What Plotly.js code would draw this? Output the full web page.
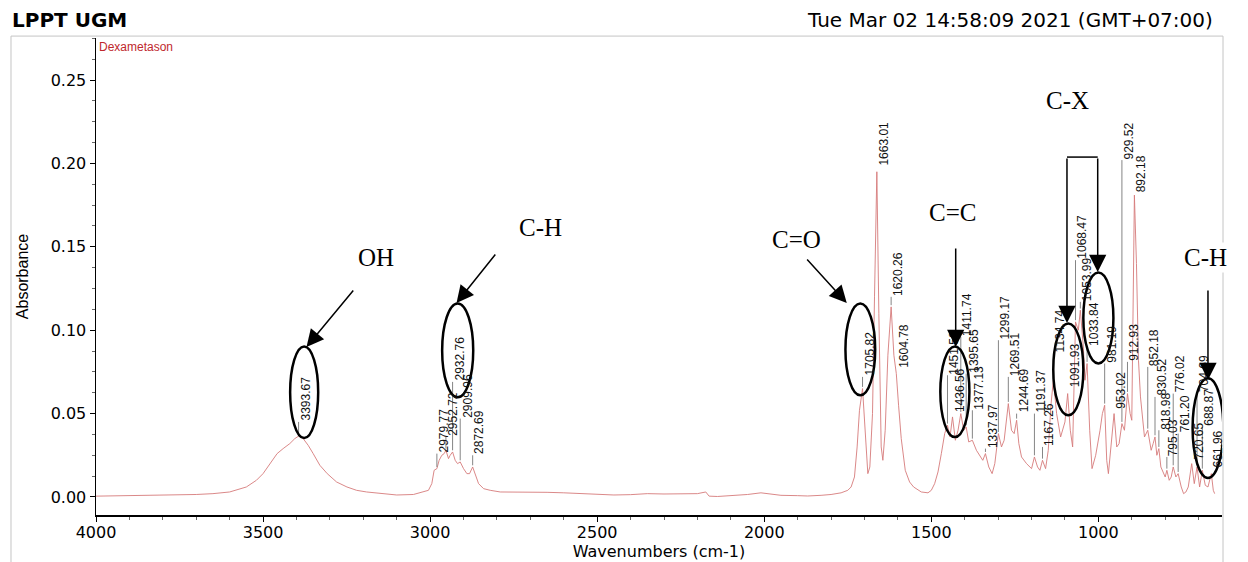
<!DOCTYPE html>
<html>
<head>
<meta charset="utf-8">
<script src="https://cdn.plot.ly/plotly-3.0.1.min.js"></script>
<style>html,body{margin:0;padding:0;background:#fff;}#chart{width:1248px;height:562px;}</style>
</head>
<body>
<div id="chart"></div>
<script>
// Spectrum
const wavenumber = [4000,3900,3800,3700,3650,3600,3550,3520,3500,3480,3458,3440,3420,3405,3393.67,3380,3365,3350,3330,3308,3280,3249,3220,3190,3150,3100,3050,3020,3005,2995,2988,2979.77,2973,2965,2958,2952.72,2945,2940,2932.76,2925,2918,2909.96,2900,2890,2882,2872.69,2865,2855,2840,2820,2790,2750,2700,2650,2600,2550,2500,2450,2400,2350,2300,2250,2200,2175,2165,2140,2100,2050,2010,1990,1970,1950,1900,1870,1830,1800,1770,1750,1740,1730,1722,1715,1705.82,1698,1690,1684,1676,1670,1663.01,1657,1650,1645,1638,1630,1620.26,1612,1604.78,1598,1590,1578,1565,1553,1530,1510,1500,1490,1480,1470,1460,1451.58,1444,1436.56,1428,1420,1411.74,1403,1395.65,1388,1377.13,1365,1355,1346,1337.97,1328,1318,1310,1299.17,1290,1282,1269.51,1260,1252,1244.69,1238,1230,1215,1200,1191.37,1182,1175,1167.26,1158,1150,1142,1134.74,1125,1113,1100,1091.93,1084,1077,1068.47,1060,1053.99,1045,1040,1033.84,1026,1019,1008,995,988,981.19,975,970,962,953.02,945,938,929.52,922,912.93,905,900,896,892.18,886,880,874,868,862,852.18,842,836,830.52,825,818.98,813,808,800,795.03,788,782,776.02,768,761.2,752,745,738,731,720.65,713,704.69,697,688.87,680,672,661.96,656,652];
const absorbance = [0.0005,0.0008,0.001,0.0015,0.002,0.003,0.006,0.010,0.014,0.020,0.026,0.029,0.032,0.035,0.0365,0.035,0.031,0.026,0.019,0.014,0.009,0.006,0.004,0.003,0.002,0.0012,0.0015,0.003,0.004,0.008,0.016,0.017,0.022,0.025,0.026,0.028,0.023,0.025,0.027,0.022,0.020,0.021,0.017,0.014,0.014,0.018,0.013,0.008,0.005,0.004,0.003,0.003,0.0032,0.0028,0.0025,0.002,0.0015,0.0012,0.0014,0.002,0.0018,0.0018,0.002,0.003,0.0005,0.0003,0.0008,0.0015,0.0025,0.002,0.0012,0.001,0.0008,0.0006,0.001,0.0015,0.0025,0.004,0.006,0.012,0.030,0.052,0.065,0.040,0.014,0.018,0.050,0.120,0.195,0.110,0.030,0.022,0.040,0.085,0.114,0.085,0.074,0.055,0.035,0.016,0.009,0.006,0.003,0.0025,0.004,0.008,0.015,0.026,0.038,0.043,0.036,0.048,0.034,0.040,0.050,0.040,0.042,0.033,0.034,0.028,0.025,0.022,0.026,0.018,0.014,0.020,0.038,0.030,0.034,0.056,0.040,0.038,0.046,0.032,0.024,0.020,0.017,0.024,0.018,0.016,0.022,0.017,0.028,0.055,0.070,0.050,0.036,0.045,0.062,0.040,0.030,0.105,0.100,0.112,0.090,0.070,0.080,0.040,0.017,0.025,0.040,0.050,0.055,0.022,0.014,0.030,0.050,0.030,0.032,0.044,0.040,0.062,0.050,0.046,0.100,0.181,0.140,0.082,0.060,0.046,0.036,0.040,0.028,0.032,0.036,0.025,0.029,0.018,0.016,0.012,0.016,0.010,0.012,0.018,0.012,0.014,0.006,0.002,0.003,0.006,0.020,0.008,0.018,0.006,0.016,0.007,0.006,0.014,0.004,0.002];

// Peak labels
const peakWn = [3393.67,2979.77,2952.72,2932.76,2909.96,2872.69,1705.82,1663.01,1620.26,1604.78,1451.58,1436.56,1411.74,1395.65,1377.13,1337.97,1299.17,1269.51,1244.69,1191.37,1167.26,1134.74,1091.93,1068.47,1053.99,1033.84,981.19,953.02,929.52,912.93,892.18,852.18,830.52,818.98,795.03,776.02,761.20,720.65,704.69,688.87,661.96];
const peakAbs = [0.0365,0.017,0.028,0.027,0.021,0.018,0.065,0.195,0.114,0.074,0.043,0.048,0.050,0.042,0.034,0.026,0.038,0.056,0.046,0.024,0.022,0.070,0.062,0.105,0.112,0.080,0.055,0.050,0.044,0.062,0.181,0.040,0.036,0.029,0.016,0.018,0.014,0.020,0.018,0.016,0.014];
// label placement (bottom of each rotated label, in absorbance units)
const labelBase = [0.045,0.026,0.036,0.069,0.047,0.025,0.072,0.198,0.120,0.077,0.073,0.050,0.096,0.074,0.052,0.029,0.094,0.072,0.050,0.050,0.030,0.086,0.065,0.142,0.117,0.090,0.080,0.052,0.202,0.081,0.182,0.078,0.060,0.040,0.024,0.062,0.038,0.022,0.062,0.042,0.017];

// Functional-group annotations
const groupNames = ["OH","C-H","C=O","C=C","C-X","C-H"];
const groupWn = [3163,2669,1903,1436,1091,678];
const groupAbs = [0.1433,0.1613,0.1541,0.1703,0.238,0.1433];

const shapes = [];
const annotations = [];

// outer frame
shapes.push({type:'rect', xref:'paper', yref:'paper', x0:-0.0755, x1:1.0009, y0:-0.3, y1:1.004,
  line:{color:'#c4c4c4', width:1}, layer:'below'});

// peak label lines + labels
const fmt = v => v.toFixed(2);
for (let i = 0; i < peakWn.length; i++) {
  if (labelBase[i] > peakAbs[i] + 0.003) {
    shapes.push({type:'line', xref:'x', yref:'y', x0:peakWn[i], x1:peakWn[i], y0:peakAbs[i]+0.001, y1:labelBase[i],
      line:{color:'#858585', width:1}});
  }
  annotations.push({x:peakWn[i], y:labelBase[i], xref:'x', yref:'y', text:fmt(peakWn[i]), showarrow:false,
    textangle:-90, xanchor:'left', yanchor:'bottom', xshift:-1, borderpad:0,
    font:{family:'Liberation Sans, Arial, sans-serif', size:12, color:'#111'}});
}

// ellipses
const ell = [[3419,3335,0.0353,0.0903],[2964,2871,0.0598,0.116],[1757,1668,0.061,0.116],[1473,1386,0.0359,0.0903],
             [1135,1045,0.049,0.104],[1045,955,0.080,0.1346],[718,626,0.0114,0.0712]];
ell.forEach(e => shapes.push({type:'circle', xref:'x', yref:'y', x0:e[0], x1:e[1], y0:e[2], y1:e[3],
  line:{color:'#000', width:2.5}}));

// arrows: [tipWn, tipAbs, ax, ay]
const arrows = [[3370,0.0899,48,-58],[2921,0.1163,40,-50],[1753,0.1163,-41,-45],[1427,0.0899,0,-100],
                [1094,0.1043,0,-166],[1002,0.1349,0,-115],[672,0.0701,0,-91]];
arrows.forEach(a => annotations.push({x:a[0], y:a[1], xref:'x', yref:'y', ax:a[2], ay:a[3], text:'',
  showarrow:true, arrowhead:2, arrowsize:2.3, arrowwidth:1.5, arrowcolor:'#000'}));
// C-X bracket top
shapes.push({type:'line', xref:'x', yref:'y', x0:1094, x1:1002, y0:0.2038, y1:0.2038, line:{color:'#000', width:1.5}});

groupNames.forEach((g, i) => annotations.push({x:groupWn[i], y:groupAbs[i], xref:'x', yref:'y', text:g,
  showarrow:false, xanchor:'center', yanchor:'middle', bgcolor: i === 5 ? '#fff' : 'rgba(0,0,0,0)',
  font:{family:'Liberation Serif, Times New Roman, serif', size:25, color:'#000'}}));

// header texts
annotations.push({xref:'paper', yref:'paper', x:-0.0765, y:1.0377, xanchor:'left', yanchor:'middle', showarrow:false,
  text:'<b>LPPT UGM</b>', font:{family:'DejaVu Sans, sans-serif', size:20, color:'#000'}});
annotations.push({xref:'paper', yref:'paper', x:0.9938, y:1.0377, xanchor:'right', yanchor:'middle', showarrow:false,
  text:'Tue Mar 02 14:58:09 2021 (GMT+07:00)', font:{family:'DejaVu Sans, sans-serif', size:20, color:'#000'}});
annotations.push({xref:'paper', yref:'paper', x:0.001, y:0.999, xanchor:'left', yanchor:'top', showarrow:false,
  text:'Dexametason', font:{family:'Liberation Sans, Arial, sans-serif', size:12, color:'#c0282d'}});

const trace = {x:wavenumber, y:absorbance, type:'scatter', mode:'lines',
  line:{color:'rgb(214,122,122)', width:0.9}, hoverinfo:'skip'};

const layout = {
  width:1248, height:562,
  margin:{l:96, r:26, t:38, b:47},
  paper_bgcolor:'#fff', plot_bgcolor:'#fff',
  showlegend:false,
  font:{family:'DejaVu Sans, sans-serif', size:16, color:'#000'},
  xaxis:{range:[4000,630], showgrid:false, zeroline:false, showline:true, linecolor:'#000', linewidth:1.5,
    ticks:'outside', ticklen:5, tickcolor:'#000', tick0:0, dtick:500, tickfont:{size:16},
    ticklabelstandoff:-3,
    minor:{dtick:100, tick0:0, ticks:'outside', ticklen:3, tickcolor:'#666'},
    title:{text:'Wavenumbers (cm-1)', font:{size:16}, standoff:4}},
  yaxis:{range:[-0.0108,0.2752], showgrid:false, zeroline:false, showline:true, linecolor:'#000', linewidth:1.5,
    ticks:'outside', ticklen:5, tickcolor:'#000', tick0:0, dtick:0.05, tickformat:'.2f', tickfont:{size:16},
    minor:{dtick:0.0125, tick0:0, ticks:'outside', ticklen:3, tickcolor:'#666'},
    title:{text:'Absorbance', font:{family:'Liberation Sans, Arial, sans-serif', size:16}, standoff:18}},
  shapes:shapes,
  annotations:annotations
};

Plotly.newPlot('chart', [trace], layout, {displayModeBar:false, staticPlot:true});
</script>
</body>
</html>
